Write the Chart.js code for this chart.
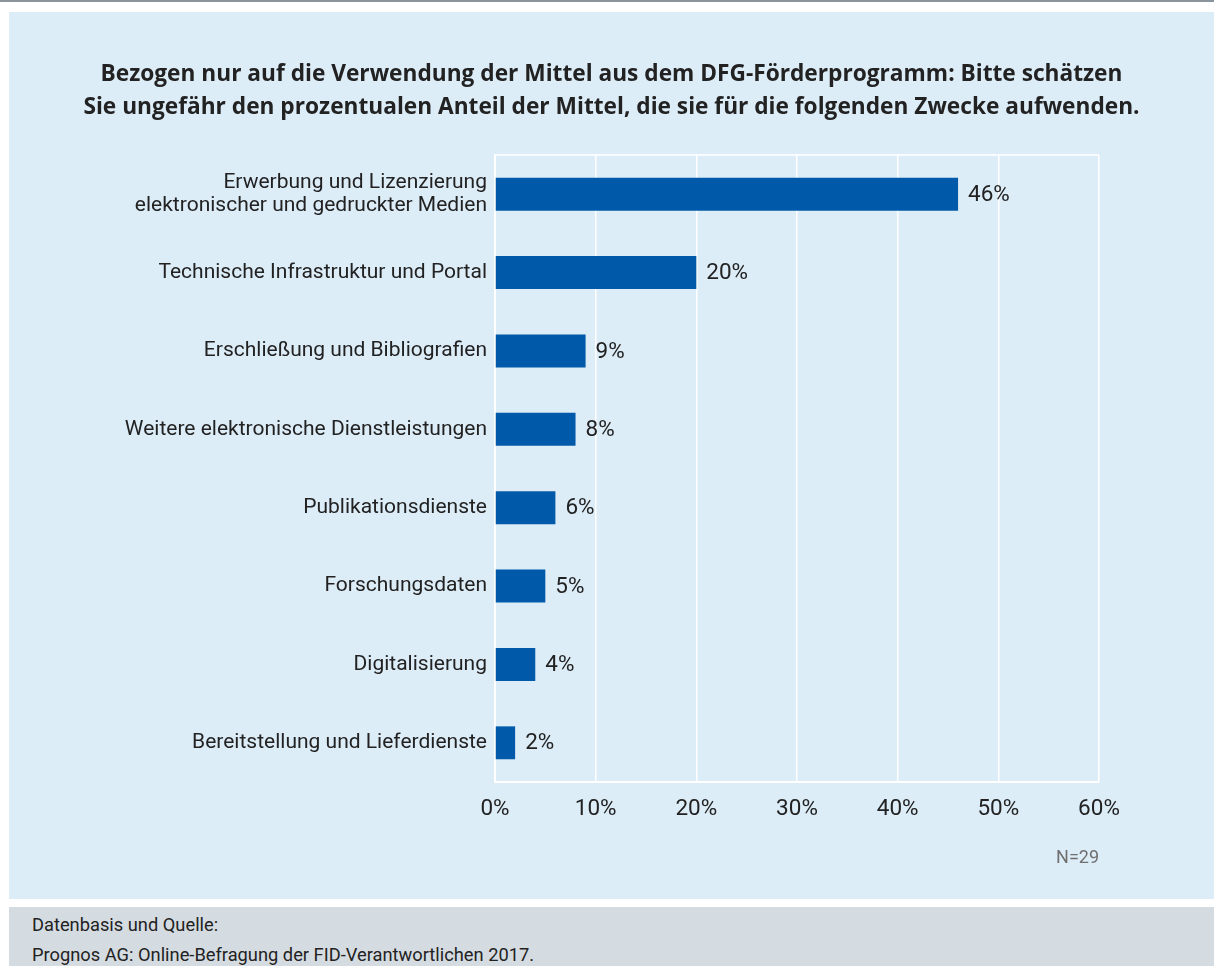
<!DOCTYPE html>
<html lang="de">
<head>
<meta charset="utf-8">
<title>Verwendung der Mittel aus dem DFG-Förderprogramm</title>
<script src="https://cdn.jsdelivr.net/npm/chart.js"></script>
<style>
  body { margin: 0; width: 1214px; height: 966px; background: #fff; position: relative; overflow: hidden; }
  #topline { position: absolute; left: 0; top: 0; width: 1214px; height: 2px; background: #8a949c; }
  #panel { position: absolute; left: 9px; top: 12px; width: 1205px; height: 887px; background: #ddedf8; }
  #panel canvas { position: absolute; left: 0; top: 0; }
  #titel { position: absolute; left: 0; top: 44px; width: 1205px; text-align: center; white-space: nowrap;
    font-family: "Open Sans", sans-serif; font-weight: bold; font-size: 22.7px; line-height: 33px; color: #222; }
  #footer { position: absolute; left: 9px; top: 907px; width: 1205px; height: 59px; background: #d5dce1;
    font-family: Roboto, "Liberation Sans", sans-serif; font-size: 18.3px; color: #222; }
  #footer div { position: absolute; left: 23px; white-space: nowrap; }
</style>
</head>
<body>
<div id="topline"></div>
<div id="panel">
  <canvas id="chart" width="1205" height="887"></canvas>
  <div id="titel"></div>
</div>
<div id="footer">
  <div style="top: 7px;">Datenbasis und Quelle:</div>
  <div style="top: 37px;">Prognos AG: Online-Befragung der FID-Verantwortlichen 2017.</div>
</div>
<script>
const zwecke = [
  ["Erwerbung und Lizenzierung", "elektronischer und gedruckter Medien"],
  "Technische Infrastruktur und Portal",
  "Erschließung und Bibliografien",
  "Weitere elektronische Dienstleistungen",
  "Publikationsdienste",
  "Forschungsdaten",
  "Digitalisierung",
  "Bereitstellung und Lieferdienste"
];
const anteile = [46, 20, 9, 8, 6, 5, 4, 2];
const achseMax = 60;
const achseSchritt = 10;
const titel = [
  "Bezogen nur auf die Verwendung der Mittel aus dem DFG-Förderprogramm: Bitte schätzen",
  "Sie ungefähr den prozentualen Anteil der Mittel, die sie für die folgenden Zwecke aufwenden."
];
const fallzahl = "N=29";

const schrift = "Roboto, 'Liberation Sans', sans-serif";
const textFarbe = "#222222";

// Titel zentriert über das ganze Panel, nicht nur über die Zeichenfläche
const titelDiv = document.getElementById("titel");
titel.forEach((zeile, i) => {
  if (i > 0) titelDiv.appendChild(document.createElement("br"));
  titelDiv.appendChild(document.createTextNode(zeile));
});

// Prozentwerte hinter die Balken, Rahmenlinie oben und Fallzahl unten rechts
const zusatz = {
  id: "zusatz",
  beforeDatasetsDraw(chart) {
    const ctx = chart.ctx;
    const area = chart.chartArea;
    ctx.save();
    ctx.strokeStyle = "#ffffff";
    ctx.lineWidth = 1.5;
    ctx.beginPath();
    ctx.moveTo(area.left, area.top);
    ctx.lineTo(area.right, area.top);
    ctx.stroke();
    ctx.restore();
  },
  afterDatasetsDraw(chart) {
    const ctx = chart.ctx;
    const area = chart.chartArea;
    const meta = chart.getDatasetMeta(0);
    ctx.save();
    ctx.font = "22.5px " + schrift;
    ctx.fillStyle = textFarbe;
    ctx.textBaseline = "middle";
    ctx.textAlign = "left";
    meta.data.forEach((bar, i) => {
      ctx.fillText(anteile[i] + "%", bar.x + 10, bar.y + 1);
    });
    ctx.fillStyle = "#6f6f6f";
    ctx.font = "18px " + schrift;
    ctx.textAlign = "right";
    ctx.fillText(fallzahl, area.right, area.bottom + 76);
    ctx.restore();
  }
};

const data = {
  labels: zwecke,
  datasets: [
    {
      data: anteile,
      backgroundColor: "#005aa9",
      borderWidth: 0,
      categoryPercentage: 1,
      barPercentage: 0.42,
    },
  ],
};

const config = {
  type: "bar",
  data: data,
  options: {
    indexAxis: "y",
    responsive: false,
    animation: false,
    layout: {
      padding: { left: 0, right: 115, top: 143, bottom: 0 },
    },
    plugins: {
      legend: { display: false },
      tooltip: { enabled: false },
    },
    scales: {
      x: {
        min: 0,
        max: achseMax,
        ticks: {
          stepSize: achseSchritt,
          color: textFarbe,
          padding: 14,
          font: { family: schrift, size: 22.5 },
          callback: (v) => v + "%",
        },
        grid: { color: "#ffffff", lineWidth: 1.5, drawTicks: false },
        border: { color: "#ffffff", width: 2 },
        afterFit: (scale) => { scale.height = 117; },
      },
      y: {
        ticks: {
          color: textFarbe,
          padding: 8,
          font: { family: schrift, size: 21, lineHeight: 1.12 },
        },
        grid: { display: false, drawTicks: false },
        border: { color: "#ffffff", width: 2 },
        afterFit: (scale) => { scale.width = 486; },
      },
    },
  },
  plugins: [zusatz],
};

const chart = new Chart(document.getElementById("chart"), config);
</script>
</body>
</html>
